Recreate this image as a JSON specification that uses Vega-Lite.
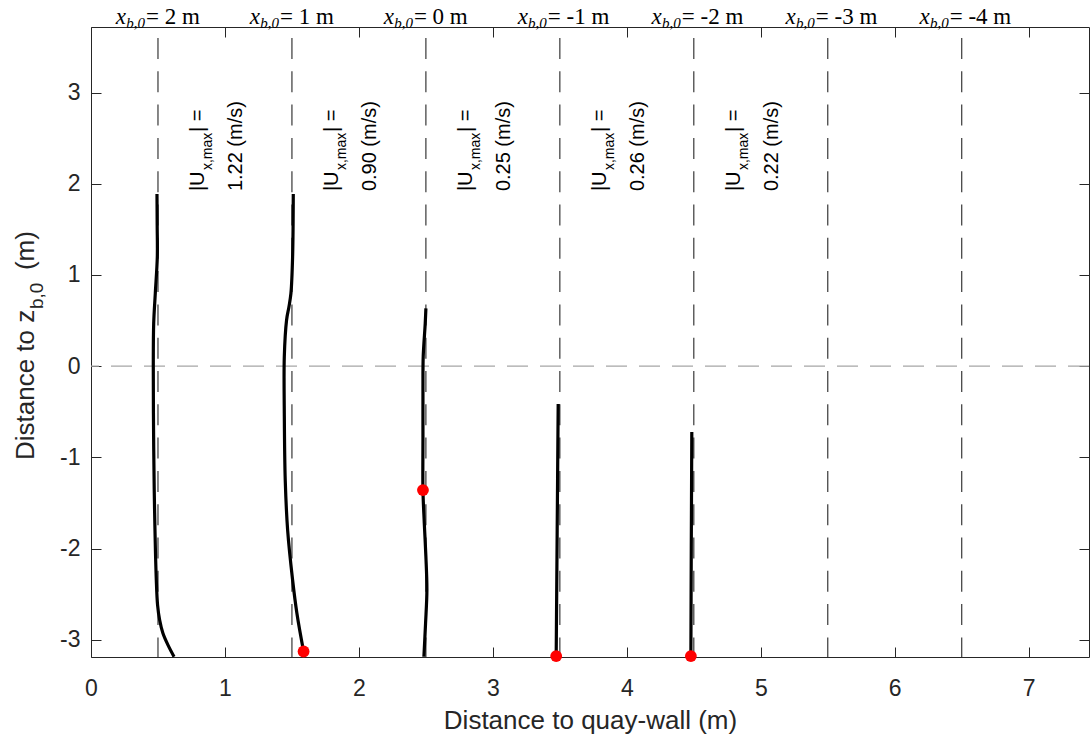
{
  "$schema": "https://vega.github.io/schema/vega-lite/v6.json",
  "width": 998,
  "height": 630,
  "autosize": {"type": "none"},
  "padding": {"left": 91, "top": 27, "right": 1, "bottom": 83},
  "background": "white",
  "config": {
    "view": {"stroke": null},
    "font": "Liberation Sans",
    "axis": {
      "grid": false,
      "domainColor": "#262626",
      "domainWidth": 1,
      "tickColor": "#262626",
      "tickWidth": 1,
      "tickSize": -10,
      "labelColor": "#262626",
      "labelFont": "Liberation Sans",
      "labelFontSize": 23,
      "labelFlush": false,
      "labelOverlap": false,
      "labelBound": false,
      "titleColor": "#262626",
      "titleFont": "Liberation Sans",
      "titleFontSize": 26,
      "titleFontWeight": "normal"
    }
  },
  "datasets": {
    "profiles": [
      {"id": "P1", "x": 0.4925, "z": 1.888},
      {"id": "P1", "x": 0.494, "z": 1.55},
      {"id": "P1", "x": 0.495, "z": 1.2},
      {"id": "P1", "x": 0.48, "z": 0.8},
      {"id": "P1", "x": 0.468, "z": 0.47},
      {"id": "P1", "x": 0.465, "z": 0.0},
      {"id": "P1", "x": 0.468, "z": -0.884},
      {"id": "P1", "x": 0.475, "z": -1.61},
      {"id": "P1", "x": 0.4875, "z": -2.345},
      {"id": "P1", "x": 0.497, "z": -2.62},
      {"id": "P1", "x": 0.5125, "z": -2.784},
      {"id": "P1", "x": 0.537, "z": -2.93},
      {"id": "P1", "x": 0.575, "z": -3.06},
      {"id": "P1", "x": 0.62, "z": -3.187},
      {"id": "P2", "x": 1.51, "z": 1.888},
      {"id": "P2", "x": 1.505, "z": 1.2},
      {"id": "P2", "x": 1.4925, "z": 0.8},
      {"id": "P2", "x": 1.4775, "z": 0.65},
      {"id": "P2", "x": 1.46, "z": 0.507},
      {"id": "P2", "x": 1.443, "z": 0.105},
      {"id": "P2", "x": 1.443, "z": -0.517},
      {"id": "P2", "x": 1.45, "z": -1.25},
      {"id": "P2", "x": 1.468, "z": -1.8},
      {"id": "P2", "x": 1.505, "z": -2.345},
      {"id": "P2", "x": 1.537, "z": -2.71},
      {"id": "P2", "x": 1.587, "z": -3.13},
      {"id": "P3", "x": 2.5, "z": 0.634},
      {"id": "P3", "x": 2.495, "z": 0.47},
      {"id": "P3", "x": 2.48, "z": 0.107},
      {"id": "P3", "x": 2.478, "z": -0.262},
      {"id": "P3", "x": 2.478, "z": -0.81},
      {"id": "P3", "x": 2.478, "z": -1.359},
      {"id": "P3", "x": 2.488, "z": -1.724},
      {"id": "P3", "x": 2.5, "z": -2.09},
      {"id": "P3", "x": 2.5075, "z": -2.455},
      {"id": "P3", "x": 2.4975, "z": -2.82},
      {"id": "P3", "x": 2.485, "z": -3.187},
      {"id": "P4", "x": 3.4875, "z": -0.415},
      {"id": "P4", "x": 3.48, "z": -1.8},
      {"id": "P4", "x": 3.4726, "z": -3.187},
      {"id": "P5", "x": 4.485, "z": -0.722},
      {"id": "P5", "x": 4.481, "z": -2.0},
      {"id": "P5", "x": 4.478, "z": -3.187}
    ],
    "dots": [
      {"x": 1.587, "z": -3.13},
      {"x": 2.478, "z": -1.359},
      {"x": 3.4726, "z": -3.18},
      {"x": 4.478, "z": -3.18}
    ],
    "lines": [
      {"x": 0.5, "lab": "= 2 m"},
      {"x": 1.5, "lab": "= 1 m"},
      {"x": 2.5, "lab": "= 0 m"},
      {"x": 3.5, "lab": "= -1 m"},
      {"x": 4.5, "lab": "= -2 m"},
      {"x": 5.5, "lab": "= -3 m"},
      {"x": 6.5, "lab": "= -4 m"}
    ],
    "annot": [
      {"x": 1, "z": 1.92, "v": "1.22 (m/s)"},
      {"x": 2, "z": 1.92, "v": "0.90 (m/s)"},
      {"x": 3, "z": 1.92, "v": "0.25 (m/s)"},
      {"x": 4, "z": 1.92, "v": "0.26 (m/s)"},
      {"x": 5, "z": 1.92, "v": "0.22 (m/s)"}
    ]
  },
  "resolve": {"axis": {"x": "independent", "y": "independent"}},
  "layer": [
    {
      "data": {"values": [{}]},
      "mark": {"type": "rule", "color": "#a6a6a6", "strokeWidth": 1.2, "strokeDash": [21, 12]},
      "encoding": {
        "y": {"datum": 0, "type": "quantitative", "scale": {"domain": [-3.19, 3.72], "nice": false, "zero": false}, "axis": null}
      }
    },
    {
      "data": {"name": "lines"},
      "mark": {"type": "rule", "color": "#262626", "strokeWidth": 1.1, "strokeDash": [21, 12.3], "strokeDashOffset": 22.3},
      "encoding": {
        "x": {"field": "x", "type": "quantitative", "scale": {"domain": [0, 7.45], "nice": false, "zero": false}, "axis": null}
      }
    },
    {
      "data": {"name": "profiles"},
      "mark": {"type": "line", "color": "#000000", "strokeWidth": 3.2, "interpolate": "catmull-rom", "strokeCap": "butt"},
      "encoding": {
        "x": {"field": "x", "type": "quantitative", "scale": {"domain": [0, 7.45], "nice": false, "zero": false},
          "axis": {"orient": "bottom", "values": [0, 1, 2, 3, 4, 5, 6, 7], "labelPadding": 30, "title": "Distance to quay-wall (m)", "titlePadding": 7, "labelExpr": "'' + datum.value"}},
        "y": {"field": "z", "type": "quantitative", "scale": {"domain": [-3.19, 3.72], "nice": false, "zero": false},
          "axis": {"orient": "left", "values": [-3, -2, -1, 0, 1, 2, 3], "labelPadding": 21, "title": null, "labelExpr": "'' + datum.value"}},
        "detail": {"field": "id"},
        "order": {"field": "z", "sort": "descending"}
      }
    },
    {
      "data": {"name": "dots"},
      "mark": {"type": "point", "filled": true, "color": "#ff0000", "opacity": 1, "size": 140},
      "encoding": {
        "x": {"field": "x", "type": "quantitative", "scale": {"domain": [0, 7.45], "nice": false, "zero": false},
          "axis": {"orient": "top", "values": [0, 1, 2, 3, 4, 5, 6, 7], "labels": false, "title": null}},
        "y": {"field": "z", "type": "quantitative", "scale": {"domain": [-3.19, 3.72], "nice": false, "zero": false},
          "axis": {"orient": "right", "values": [-3, -2, -1, 0, 1, 2, 3], "labels": false, "title": null}}
      }
    },
    {
      "data": {"name": "annot"},
      "mark": {"type": "text", "angle": 270, "align": "left", "baseline": "alphabetic", "fontSize": 20, "dy": -21, "color": "#000000", "font": "Liberation Sans"},
      "encoding": {
        "x": {"field": "x", "type": "quantitative", "axis": null},
        "y": {"field": "z", "type": "quantitative", "axis": null},
        "text": {"value": "|U"}
      }
    },
    {
      "data": {"name": "annot"},
      "mark": {"type": "text", "angle": 270, "align": "left", "baseline": "alphabetic", "fontSize": 14, "dx": 21, "dy": -13, "color": "#000000", "font": "Liberation Sans"},
      "encoding": {
        "x": {"field": "x", "type": "quantitative", "axis": null},
        "y": {"field": "z", "type": "quantitative", "axis": null},
        "text": {"value": "x,max"}
      }
    },
    {
      "data": {"name": "annot"},
      "mark": {"type": "text", "angle": 270, "align": "left", "baseline": "alphabetic", "fontSize": 20, "dx": 59, "dy": -21, "color": "#000000", "font": "Liberation Sans"},
      "encoding": {
        "x": {"field": "x", "type": "quantitative", "axis": null},
        "y": {"field": "z", "type": "quantitative", "axis": null},
        "text": {"value": "| ="}
      }
    },
    {
      "data": {"name": "annot"},
      "mark": {"type": "text", "angle": 270, "align": "left", "baseline": "alphabetic", "fontSize": 20, "dy": 17, "color": "#000000", "font": "Liberation Sans"},
      "encoding": {
        "x": {"field": "x", "type": "quantitative", "axis": null},
        "y": {"field": "z", "type": "quantitative", "axis": null},
        "text": {"field": "v"}
      }
    },
    {
      "data": {"name": "lines"},
      "mark": {"type": "text", "align": "right", "baseline": "alphabetic", "fontSize": 23, "fontStyle": "italic", "dx": -32, "dy": -3, "color": "#000000", "font": "Liberation Serif"},
      "encoding": {
        "x": {"field": "x", "type": "quantitative", "axis": null},
        "y": {"datum": 3.72, "type": "quantitative", "axis": null},
        "text": {"value": "x"}
      }
    },
    {
      "data": {"name": "lines"},
      "mark": {"type": "text", "align": "right", "baseline": "alphabetic", "fontSize": 15, "fontStyle": "italic", "dx": -13, "dy": 1, "color": "#000000", "font": "Liberation Serif"},
      "encoding": {
        "x": {"field": "x", "type": "quantitative", "axis": null},
        "y": {"datum": 3.72, "type": "quantitative", "axis": null},
        "text": {"value": "b,0"}
      }
    },
    {
      "data": {"name": "lines"},
      "mark": {"type": "text", "align": "left", "baseline": "alphabetic", "fontSize": 23, "dx": -12, "dy": -3, "color": "#000000", "font": "Liberation Serif"},
      "encoding": {
        "x": {"field": "x", "type": "quantitative", "axis": null},
        "y": {"datum": 3.72, "type": "quantitative", "axis": null},
        "text": {"field": "lab"}
      }
    },
    {
      "data": {"values": [{}]},
      "mark": {"type": "text", "angle": 270, "align": "left", "baseline": "alphabetic", "fontSize": 26, "dy": -57, "color": "#262626", "font": "Liberation Sans"},
      "encoding": {
        "x": {"datum": 0, "type": "quantitative", "axis": null},
        "y": {"datum": -1.03, "type": "quantitative", "axis": null},
        "text": {"value": "Distance to z"}
      }
    },
    {
      "data": {"values": [{}]},
      "mark": {"type": "text", "angle": 270, "align": "left", "baseline": "alphabetic", "fontSize": 19, "dx": 151, "dy": -48, "color": "#262626", "font": "Liberation Sans"},
      "encoding": {
        "x": {"datum": 0, "type": "quantitative", "axis": null},
        "y": {"datum": -1.03, "type": "quantitative", "axis": null},
        "text": {"value": "b,0"}
      }
    },
    {
      "data": {"values": [{}]},
      "mark": {"type": "text", "angle": 270, "align": "left", "baseline": "alphabetic", "fontSize": 26, "dx": 190, "dy": -57, "color": "#262626", "font": "Liberation Sans"},
      "encoding": {
        "x": {"datum": 0, "type": "quantitative", "axis": null},
        "y": {"datum": -1.03, "type": "quantitative", "axis": null},
        "text": {"value": " (m)"}
      }
    }
  ]
}
